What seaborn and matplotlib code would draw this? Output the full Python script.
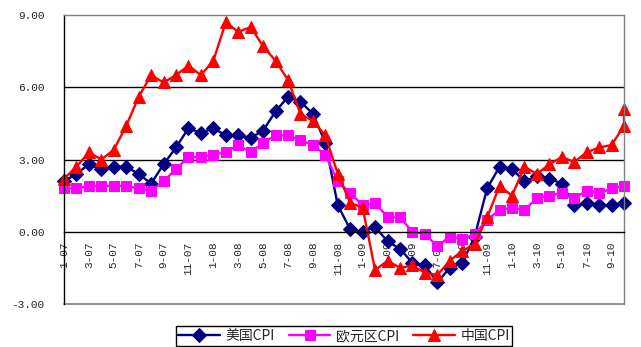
import numpy as np
import pandas as pd
import matplotlib
matplotlib.use("Agg")
import matplotlib.pyplot as plt
import seaborn as sns

# Monthly CPI, year-on-year %, Jan 2007 - Oct 2010
months = pd.period_range("2007-01", "2010-10", freq="M")
month_labels = [f"{m.month}-{m.year % 100:02d}" for m in months]

us_cpi = [2.1, 2.4, 2.8, 2.6, 2.7, 2.7, 2.4, 2.0, 2.8, 3.5, 4.3, 4.1,
          4.3, 4.0, 4.0, 3.9, 4.2, 5.0, 5.6, 5.4, 4.9, 3.7, 1.1, 0.1,
          0.0, 0.2, -0.4, -0.7, -1.3, -1.4, -2.1, -1.5, -1.3, -0.2, 1.8, 2.7,
          2.6, 2.1, 2.3, 2.2, 2.0, 1.1, 1.2, 1.1, 1.1, 1.2]
euro_cpi = [1.8, 1.8, 1.9, 1.9, 1.9, 1.9, 1.8, 1.7, 2.1, 2.6, 3.1, 3.1,
            3.2, 3.3, 3.6, 3.3, 3.7, 4.0, 4.0, 3.8, 3.6, 3.2, 2.1, 1.6,
            1.1, 1.2, 0.6, 0.6, 0.0, -0.1, -0.6, -0.2, -0.3, -0.1, 0.5, 0.9,
            1.0, 0.9, 1.4, 1.5, 1.6, 1.4, 1.7, 1.6, 1.8, 1.9]
china_cpi = [2.2, 2.7, 3.3, 3.0, 3.4, 4.4, 5.6, 6.5, 6.2, 6.5, 6.9, 6.5,
             7.1, 8.7, 8.3, 8.5, 7.7, 7.1, 6.3, 4.9, 4.6, 4.0, 2.4, 1.2,
             1.0, -1.6, -1.2, -1.5, -1.4, -1.7, -1.8, -1.2, -0.8, -0.5, 0.6, 1.9,
             1.5, 2.7, 2.4, 2.8, 3.1, 2.9, 3.3, 3.5, 3.6, 4.4, 5.1]
# the Nov-2010 China figure sits on the final category of the axis
china_pos = list(range(len(months))) + [len(months) - 1]

series_names = ["美国CPI", "欧元区CPI", "中国CPI"]
y_ticks = [-3, 0, 3, 6, 9]

sns.set_style("white")
plt.rcParams["font.family"] = ["Liberation Mono", "DejaVu Sans Mono"]

fig = plt.figure(figsize=(6.41, 3.47), dpi=100)
ax = fig.add_axes([64 / 641, 1 - 304 / 347, 560 / 641, 289 / 347])

df_us = pd.DataFrame({"x": np.arange(len(months)), "y": us_cpi})
df_eu = pd.DataFrame({"x": np.arange(len(months)), "y": euro_cpi})
df_cn = pd.DataFrame({"x": china_pos, "y": china_cpi})

styles = [
    (df_us, "#000080", "D", 7.5),
    (df_eu, "#FF00FF", "s", 7.0),
    (df_cn, "#FF0000", "^", 8.5),
]
for (df, color, marker, ms), name in zip(styles, series_names):
    sns.lineplot(data=df, x="x", y="y", ax=ax, color=color, marker=marker,
                 markersize=ms, markeredgecolor=color, linewidth=1.7,
                 estimator=None, sort=False, label=name, clip_on=False)

ax.set_xlim(0, len(months) - 1)
ax.set_ylim(-3, 9)

# gridlines and frame
for v in [3, 6]:
    ax.axhline(v, color="black", linewidth=1.0, zorder=0)
ax.axhline(-3, color="#808080", linewidth=1.2, clip_on=False, zorder=0)
ax.spines["top"].set_color("#808080")
ax.spines["right"].set_color("#808080")
ax.spines["left"].set_color("black")
ax.spines["bottom"].set_position(("data", 0))
ax.spines["bottom"].set_color("black")
for s in ax.spines.values():
    s.set_linewidth(1.0)

ax.set_xticks(np.arange(0, len(months), 2))
ax.set_xticklabels(month_labels[::2], rotation=90, fontsize=8)
ax.tick_params(axis="x", direction="in", length=3, pad=7, color="black")
ax.set_yticks(y_ticks)
ax.set_yticklabels([f"{v:.2f}" for v in y_ticks], fontsize=8)
ax.tick_params(axis="y", length=0, pad=14)
ax.set_xlabel("")
ax.set_ylabel("")

leg = ax.legend(loc="lower center", bbox_to_anchor=(344 / 641, 0.003),
                bbox_transform=fig.transFigure, ncol=3, frameon=True,
                fancybox=False, edgecolor="black", framealpha=1,
                handlelength=3.0, columnspacing=1.0, handletextpad=0.4,
                borderpad=0.2, borderaxespad=0,
                prop={"family": ["Noto Sans CJK SC", "DejaVu Sans"], "size": 10})
leg.get_frame().set_linewidth(1.0)

fig.savefig("out.png", dpi=100, facecolor="white")
